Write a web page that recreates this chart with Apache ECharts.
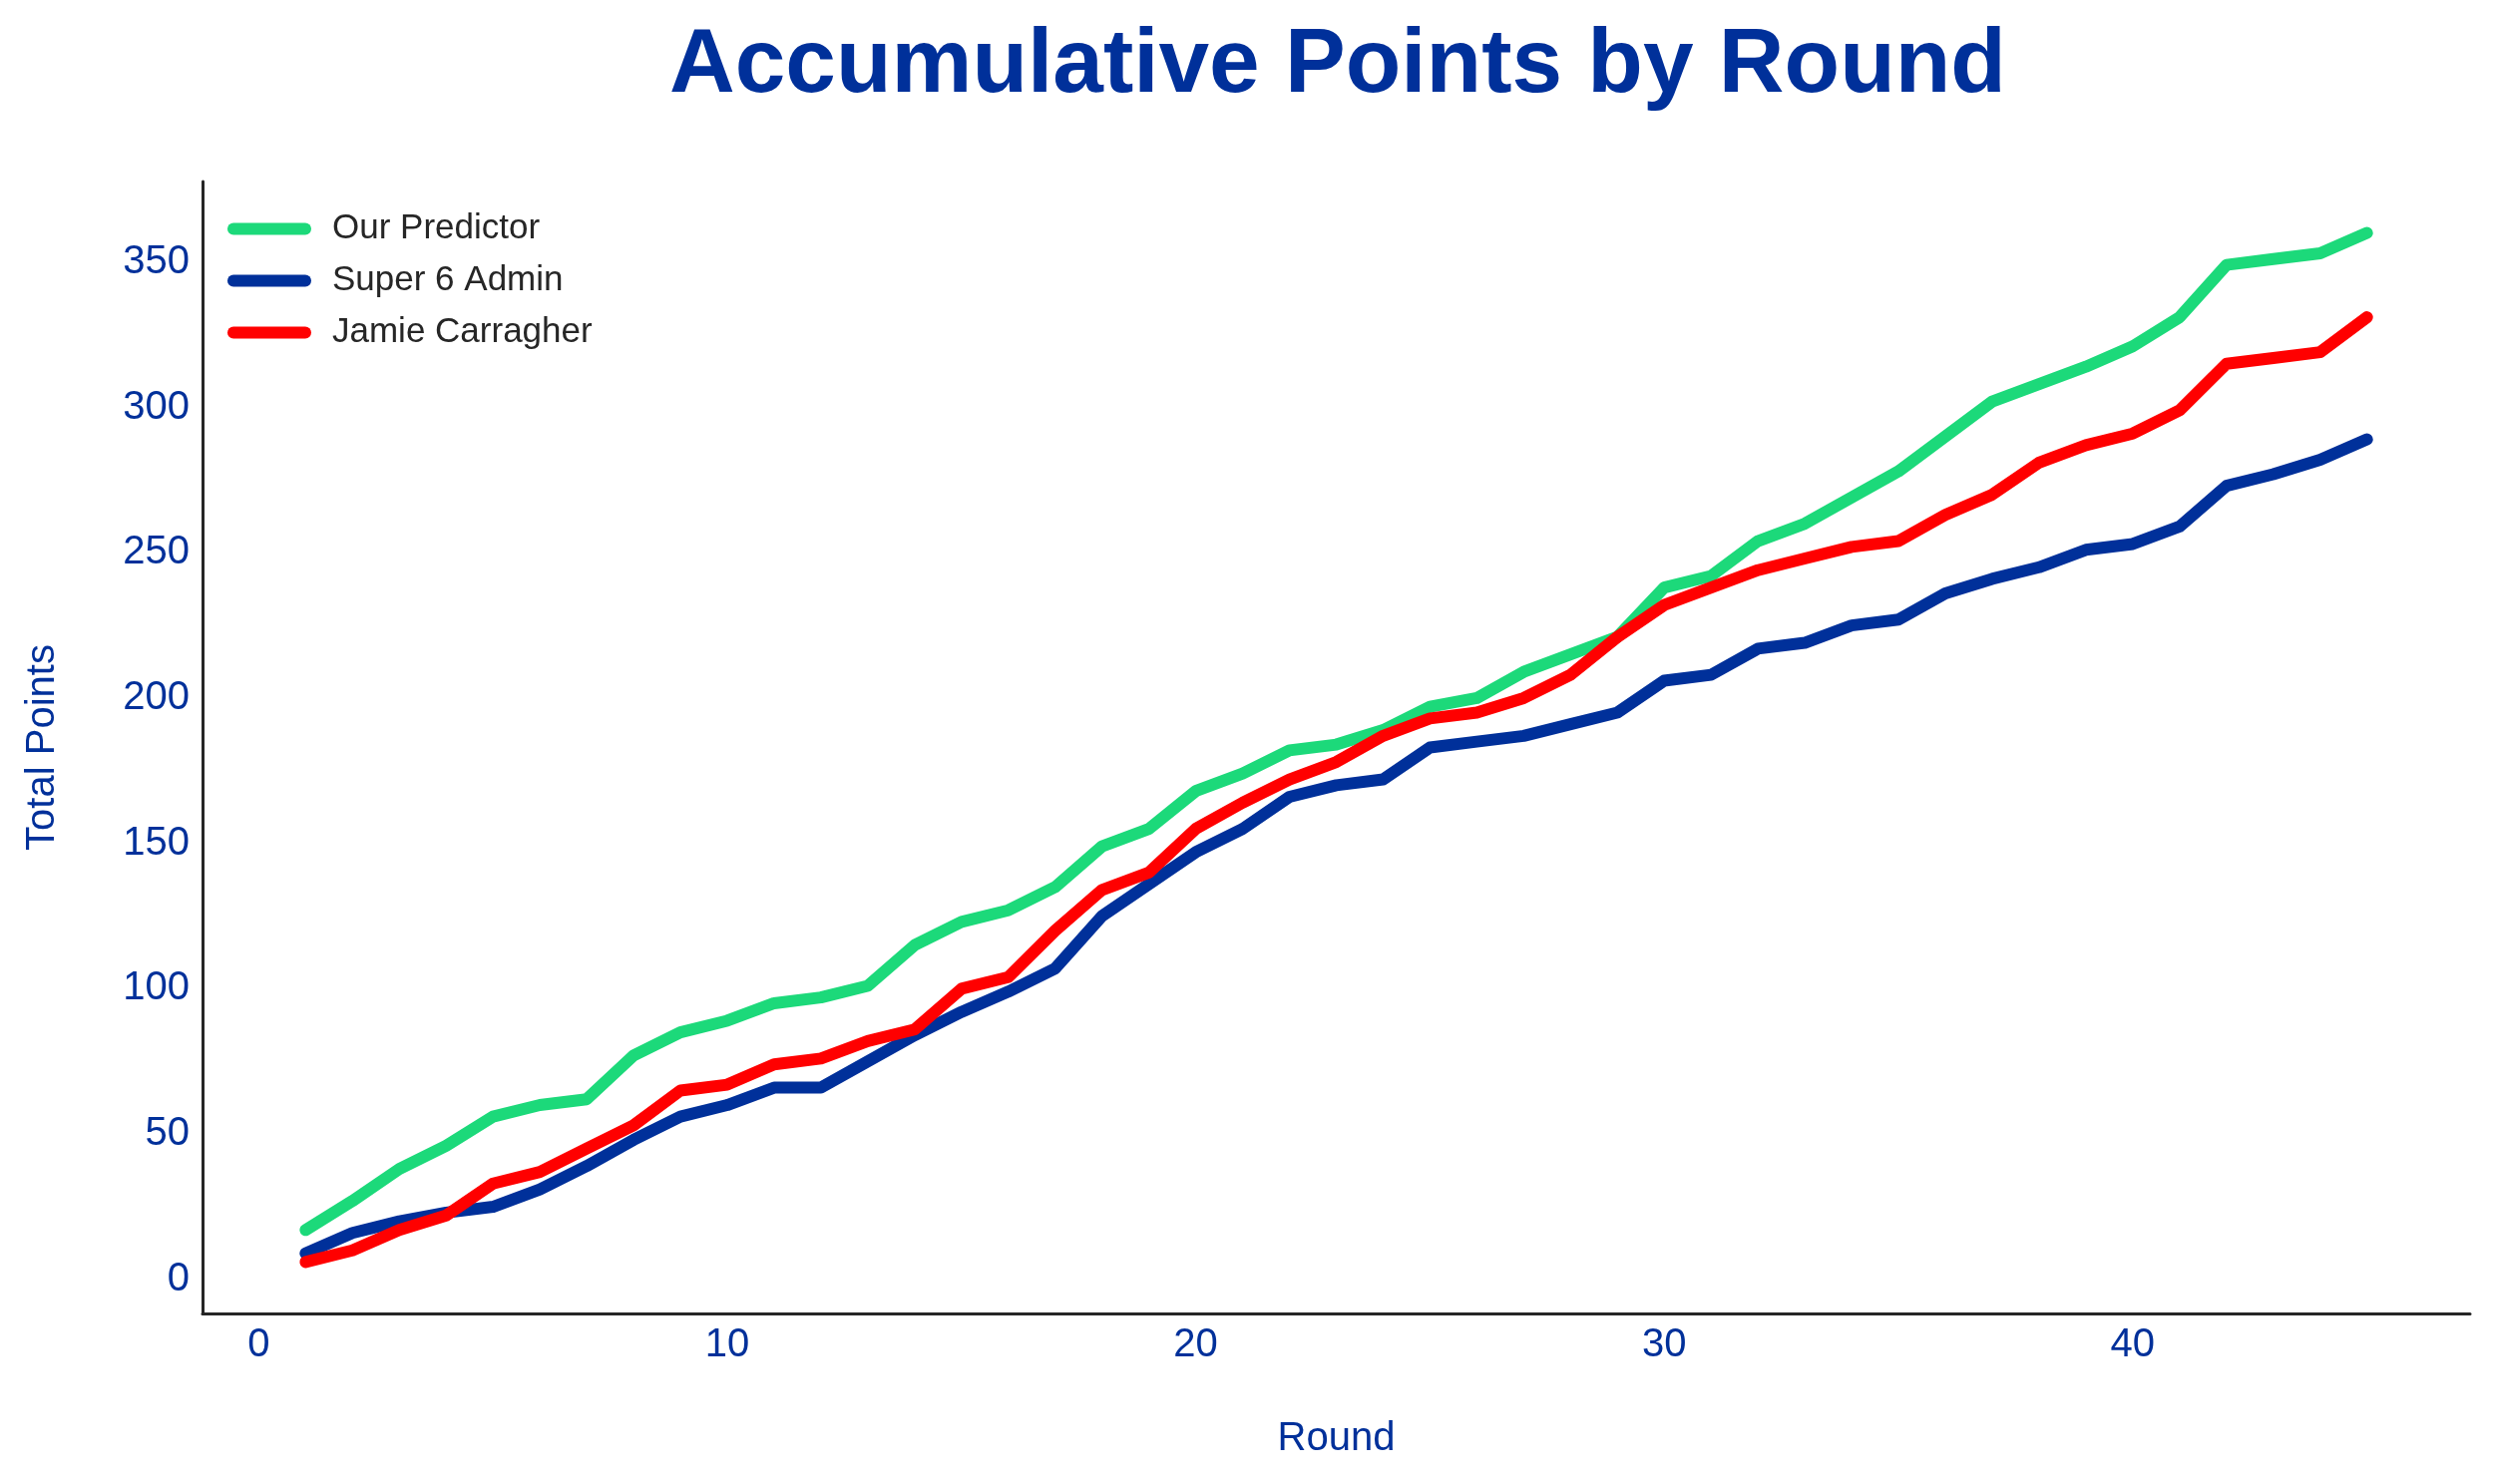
<!DOCTYPE html>
<html>
<head>
<meta charset="utf-8">
<script src="https://cdn.jsdelivr.net/npm/echarts@6/dist/echarts.min.js"></script>
<style>html,body{margin:0;padding:0;background:#fff;}#c{width:2500px;height:1488px;}</style>
</head>
<body>
<div id="c"></div>
<script>
const rounds = [1,2,3,4,5,6,7,8,9,10,11,12,13,14,15,16,17,18,19,20,21,22,23,24,25,26,27,28,29,30,31,32,33,34,35,36,37,38,39,40,41,42,43,44,45];
const ourPredictor = [17,27,38,46,56,60,62,77,85,89,95,97,101,115,123,127,135,149,155,168,174,182,184,189,197,200,209,215,221,238,242,254,260,269,278,290,302,308,314,321,331,349,351,353,360];
const super6Admin = [9,16,20,23,25,31,39,48,56,60,66,66,75,84,92,99,107,125,136,147,155,166,170,172,183,185,187,191,195,206,208,217,219,225,227,236,241,245,251,253,259,273,277,282,289];
const jamieCarragher = [6,10,17,22,33,37,45,53,65,67,74,76,82,86,100,104,120,134,140,155,164,172,178,187,193,195,200,208,221,232,238,244,248,252,254,263,270,281,287,291,299,315,317,319,331];
const seriesNames = ['Our Predictor','Super 6 Admin','Jamie Carragher'];
const xTicks = [0,10,20,30,40];
const yTicks = [0,50,100,150,200,250,300,350];

const BLUE = '#00309a';
const FONT = 'Liberation Sans, Arial, sans-serif';
const pair = (arr) => rounds.map((r, i) => [r, arr[i]]);
const capsule = 'path://M6,0 H78 A6,6 0 0 1 78,12 H6 A6,6 0 0 1 6,0 Z';

const chart = echarts.init(document.getElementById('c'), null, {renderer: 'canvas'});
const mk = (name, data, color, z) => ({
  name, type: 'line', data: pair(data), showSymbol: false, symbol: 'none',
  lineStyle: {color, width: 12, cap: 'round', join: 'round'},
  itemStyle: {color}, z, animation: false
});
chart.setOption({
  animation: false,
  backgroundColor: '#fff',
  title: {
    text: 'Accumulative Points by Round', left: 666, top: 16,
    textStyle: {fontFamily: FONT, fontSize: 91, fontWeight: 'bold', color: BLUE}
  },
  legend: {
    orient: 'vertical', left: 228, top: 212, padding: 0, itemGap: 17,
    itemWidth: 84, itemHeight: 12, icon: capsule, selectedMode: false,
    data: seriesNames,
    textStyle: {fontFamily: FONT, fontSize: 35, color: '#262626', padding: [0,0,0,16]}
  },
  grid: {left: 203, right: 24, top: 182, bottom: 171, containLabel: false},
  xAxis: {
    type: 'value', min: -1.2, max: 47.2,
    name: 'Round', nameLocation: 'middle', nameGap: 106,
    nameTextStyle: {fontFamily: FONT, fontSize: 40, color: BLUE},
    axisLine: {show: true, onZero: false, lineStyle: {color: '#262626', width: 3}},
    axisTick: {show: false},
    splitLine: {show: false},
    axisLabel: {customValues: xTicks, fontFamily: FONT, fontSize: 40, color: BLUE, margin: 12}
  },
  yAxis: {
    type: 'value', min: -11.7, max: 377.7,
    name: 'Total Points', nameLocation: 'middle', nameGap: 140, nameRotate: 90,
    nameTextStyle: {fontFamily: FONT, fontSize: 40, color: BLUE},
    axisLine: {show: true, onZero: false, lineStyle: {color: '#262626', width: 3}},
    axisTick: {show: false},
    splitLine: {show: false},
    axisLabel: {customValues: yTicks, fontFamily: FONT, fontSize: 40, color: BLUE, margin: 13, padding: [8,0,0,0]}
  },
  series: [
    mk(seriesNames[0], ourPredictor, '#1cd97a', 2),
    mk(seriesNames[1], super6Admin, BLUE, 3),
    mk(seriesNames[2], jamieCarragher, '#ff0000', 4)
  ]
});
</script>
</body>
</html>
